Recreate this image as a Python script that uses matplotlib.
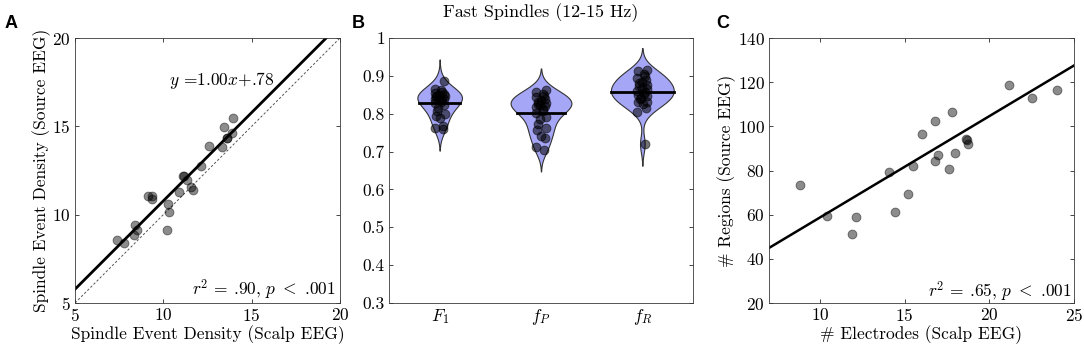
import numpy as np
import matplotlib
matplotlib.use('Agg')
import matplotlib.pyplot as plt

plt.rcParams['font.family'] = ['cmr10', 'DejaVu Serif']
plt.rcParams['mathtext.fontset'] = 'cm'
plt.rcParams['axes.formatter.use_mathtext'] = True
plt.rcParams['font.size'] = 12.5

# Panel A: spindle event density, scalp vs source
scalp_density = [7.40, 7.79, 8.40, 8.36, 8.49, 9.15, 9.34, 9.34, 10.26, 10.32,
                 10.23, 10.89, 11.13, 11.16, 11.36, 11.55, 11.70, 12.11, 12.57,
                 13.32, 13.43, 13.58, 13.62, 13.91, 13.96]
source_density = [8.55, 8.40, 9.40, 8.85, 9.15, 11.08, 11.08, 10.89, 10.62, 10.13,
                  9.11, 11.28, 12.21, 12.20, 11.94, 11.57, 11.42, 12.77, 13.87,
                  13.85, 14.96, 14.34, 14.36, 14.62, 15.49]
fit_a = (1.00, 0.78)

# Panel B: fast spindle measures
violin_labels = [r'$F_1$', r'$f_P$', r'$f_R$']
f1_vals = [0.886, 0.865, 0.862, 0.858, 0.855, 0.853, 0.850, 0.848, 0.846, 0.844,
           0.842, 0.840, 0.838, 0.835, 0.832, 0.828, 0.822, 0.815, 0.808, 0.800,
           0.795, 0.788, 0.768, 0.763, 0.760]
fp_vals = [0.862, 0.858, 0.852, 0.848, 0.843, 0.838, 0.835, 0.832, 0.828, 0.826,
           0.823, 0.820, 0.817, 0.813, 0.808, 0.803, 0.792, 0.785, 0.772, 0.762,
           0.756, 0.742, 0.735, 0.712, 0.705]
fr_vals = [0.916, 0.912, 0.905, 0.900, 0.895, 0.890, 0.885, 0.880, 0.876, 0.872,
           0.868, 0.864, 0.860, 0.857, 0.853, 0.850, 0.846, 0.842, 0.838, 0.832,
           0.830, 0.825, 0.815, 0.805, 0.720]

# Panel C: electrodes vs regions
n_electrodes = [8.81, 10.43, 11.92, 12.12, 14.07, 14.46, 15.19, 15.51, 16.04, 16.77,
                16.98, 16.79, 17.60, 17.81, 17.97, 18.62, 18.68, 18.74, 21.14, 22.54, 23.97]
n_regions = [73.6, 59.5, 51.2, 59.1, 79.2, 61.4, 69.2, 82.2, 96.5, 84.3,
             86.9, 102.6, 80.8, 106.6, 87.8, 94.3, 94.0, 92.2, 118.7, 112.8, 116.3]
fit_c = (4.59, 12.8)

ink = '#262626'


def style_axes(ax):
    ax.tick_params(direction='in', length=3, width=0.6, colors=ink, labelcolor='k',
                   top=True, right=True, pad=3)
    for s in ax.spines.values():
        s.set_color('#3a3a3a')
        s.set_linewidth(0.6)


fig = plt.figure(figsize=(10.84, 3.51), dpi=100)
W, H = 1084, 351

def px_axes(l, t, r, b):
    return fig.add_axes([l / W, 1 - b / H, (r - l) / W, (b - t) / H])

# ---- A
axA = px_axes(75, 38, 340, 303)
xx = np.array([5, 20])
axA.plot(xx, xx, color='#555555', lw=0.7, dashes=(2.5, 2))
axA.plot(xx, fit_a[0] * xx + fit_a[1], color='k', lw=2)
axA.scatter(scalp_density, source_density, s=40, c='k', alpha=0.45,
            edgecolors='k', linewidths=0.7, zorder=3)
axA.set_xlim(5, 20)
axA.set_ylim(5, 20)
axA.set_xticks([5, 10, 15, 20])
axA.set_yticks([5, 10, 15, 20])
axA.set_xlabel('Spindle Event Density (Scalp EEG)', labelpad=1)
axA.set_ylabel('Spindle Event Density (Source EEG)', labelpad=1)
axA.text(16.3, 17.6, r'$y$ =1.00$x$+.78', ha='right', va='center')
axA.text(19.75, 5.75, r'$r^2$ = .90, $p\ {<}\ $.001', ha='right', va='center')
style_axes(axA)

# ---- B
axB = px_axes(389, 38, 693, 303)
groups = [np.array(f1_vals), np.array(fp_vals), np.array(fr_vals)]
positions = [1, 2, 3]
widths = [0.44, 0.60, 0.62]
bw = 0.023
stats = []
for g in groups:
    grid = np.linspace(g.min() - 2.5 * bw, g.max() + 2.5 * bw, 300)
    dens = np.exp(-0.5 * ((grid[:, None] - g[None, :]) / bw) ** 2).sum(1)
    dens /= len(g) * bw * np.sqrt(2 * np.pi)
    stats.append(dict(coords=grid, vals=dens, mean=g.mean(), median=np.median(g),
                      min=g.min(), max=g.max()))
parts = axB.violin(stats, positions=positions, widths=widths,
                   showextrema=False, showmedians=False)
for body in parts['bodies']:
    body.set_facecolor('#a6a6f7')
    body.set_edgecolor('#333333')
    body.set_linewidth(0.8)
    body.set_alpha(1)
for st, p, w, g in zip(stats, positions, widths, groups):
    half = w / 2 * np.interp(st['mean'], st['coords'], st['vals']) / st['vals'].max()
    axB.plot([p - half, p + half], [st['mean']] * 2, color='k', lw=2, zorder=2)
    jitter = 0.05 * np.sin(np.arange(len(g)) * 2.3 + 2)
    axB.scatter(p + jitter, g, s=40, c='k', alpha=0.55, edgecolors='k',
                linewidths=0.7, zorder=3)
axB.set_xlim(0.5, 3.5)
axB.set_ylim(0.3, 1)
axB.set_xticks(positions)
axB.set_xticklabels(violin_labels)
yt = [0.3, 0.4, 0.5, 0.6, 0.7, 0.8, 0.9, 1.0]
axB.set_yticks(yt)
axB.set_yticklabels(['0.3', '0.4', '0.5', '0.6', '0.7', '0.8', '0.9', '1'])
axB.set_title('Fast Spindles (12-15 Hz)', fontsize=13, pad=15)
style_axes(axB)
axB.tick_params(axis='x', length=0)

# ---- C
axC = px_axes(769, 38, 1074, 303)
xc = np.array([7, 25])
axC.plot(xc, fit_c[0] * xc + fit_c[1], color='k', lw=1.8)
axC.scatter(n_electrodes, n_regions, s=40, c='k', alpha=0.45,
            edgecolors='k', linewidths=0.7, zorder=3)
axC.set_xlim(7, 25)
axC.set_ylim(20, 140)
axC.set_xticks([10, 15, 20, 25])
axC.set_yticks(range(20, 141, 20))
axC.set_xlabel('# Electrodes (Scalp EEG)', labelpad=1)
axC.set_ylabel('# Regions (Source EEG)', labelpad=1)
axC.text(24.85, 25, r'$r^2$ = .65, $p\ {<}\ $.001', ha='right', va='center')
style_axes(axC)

# panel letters
for lbl, x in [('A', 5), ('B', 352), ('C', 716)]:
    fig.text(x / W, 1 - 23 / H, lbl, fontsize=13, fontweight='bold',
             family='Liberation Sans', va='center', ha='left')

fig.savefig('out.png', dpi=100)
